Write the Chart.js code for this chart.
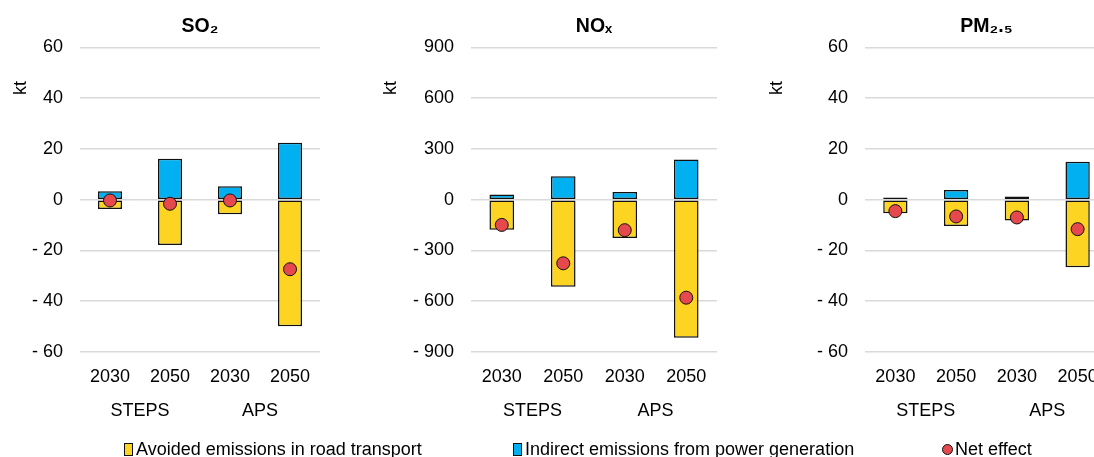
<!DOCTYPE html>
<html>
<head>
<meta charset="utf-8">
<script src="https://cdn.jsdelivr.net/npm/chart.js@4"></script>
<style>
html,body{margin:0;padding:0;width:1094px;height:457px;overflow:hidden;background:#fff;font-family:"Liberation Sans",Arial,sans-serif;color:#000;}
canvas{position:absolute;top:0;}
.kt{position:absolute;font-size:18px;line-height:18px;transform:translate(-50%,-50%) rotate(-90deg);}
.leg{position:absolute;top:440px;font-size:18px;line-height:18px;white-space:nowrap;}
.sq{display:inline-block;width:7px;height:11px;border:1px solid #111;margin-right:3px;vertical-align:-1px;}
.dot{display:inline-block;width:9px;height:9px;border:1px solid #111;border-radius:50%;margin-right:2px;vertical-align:0px;background:#E5484D;}
</style>
</head>
<body>
<canvas id="c1" width="340" height="440" style="left:0px"></canvas>
<canvas id="c2" width="346" height="440" style="left:391px"></canvas>
<canvas id="c3" width="343" height="440" style="left:785px"></canvas>
<div class="kt" style="left:20px;top:88px">kt</div>
<div class="kt" style="left:390px;top:88px">kt</div>
<div class="kt" style="left:776px;top:88px">kt</div>
<div class="leg" style="left:124px"><span class="sq" style="background:#FDD421"></span>Avoided emissions in road transport</div>
<div class="leg" style="left:513px"><span class="sq" style="background:#00B0F0"></span>Indirect emissions from power generation</div>
<div class="leg" style="left:942px"><span class="dot"></span>Net effect</div>
<script>
// ---- data ----
const years = ['2030', '2050', '2030', '2050'];
const scenarios = ['STEPS', 'APS'];
const seriesNames = ['Avoided emissions in road transport', 'Indirect emissions from power generation', 'Net effect'];

const so2Avoided  = [-3.7, -17.8, -5.7, -49.9];
const so2Indirect = [3.3, 16.1, 5.3, 22.4];
const so2Net      = [-0.3, -1.6, -0.3, -27.4];

const noxAvoided  = [-178, -515, -226, -816];
const noxIndirect = [30, 138, 45, 238];
const noxNet      = [-149, -376, -180, -579];

const pmAvoided   = [-5.3, -10.4, -8.2, -26.6];
const pmIndirect  = [0.9, 3.8, 1.3, 15.0];
const pmNet       = [-4.5, -6.6, -7.0, -11.6];

const titles = ['SO\u2082', 'NO\u2093', 'PM\u2082.\u2085'];
const axisRanges = [[-60, 60, 20], [-900, 900, 300], [-60, 60, 20]];

// ---- styles ----
const FONT = '"Liberation Sans", Arial, sans-serif';
const YELLOW = '#FDD421', BLUE = '#00B0F0', RED = '#E5484D', EDGE = '#111111';

Chart.defaults.font.family = FONT;
Chart.defaults.font.size = 18;
Chart.defaults.color = '#000';

function makeChart(id, title, avoided, indirect, net, range) {
  return new Chart(document.getElementById(id), {
    type: 'bar',
    data: {
      labels: years,
      datasets: [
        { type: 'line', label: seriesNames[2], data: net, showLine: false, stack: 'net', order: 0,
          pointRadius: 6.5, pointHoverRadius: 6.5, pointBackgroundColor: RED, pointBorderColor: EDGE, pointBorderWidth: 1 },
        { label: seriesNames[0], data: avoided, backgroundColor: YELLOW, borderColor: EDGE, borderWidth: 1.5,
          borderSkipped: false, stack: 'a', order: 1 },
        { label: seriesNames[1], data: indirect, backgroundColor: BLUE, borderColor: EDGE, borderWidth: 1.5,
          borderSkipped: false, stack: 'a', order: 1 }
      ]
    },
    options: {
      responsive: false,
      animation: false,
      events: [],
      layout: { padding: { left: 0, right: 20, top: 0, bottom: 10 } },
      categoryPercentage: 1,
      barPercentage: 0.4,
      plugins: {
        legend: { display: false },
        tooltip: { enabled: false },
        title: { display: true, text: title, fullSize: false, font: { size: 19.5, weight: 'bold', lineHeight: 1.2 },
                 color: '#000', padding: { top: 15, bottom: 9 } }
      },
      scales: {
        x: {
          stacked: true,
          grid: { display: false, drawTicks: false },
          border: { display: false },
          ticks: { padding: 14, font: { size: 18 }, color: '#000' },
          afterFit: (a) => { a.height = 40; }
        },
        grp: {
          type: 'category',
          labels: scenarios,
          position: 'bottom',
          offset: true,
          grid: { display: false, drawTicks: false },
          border: { display: false },
          ticks: { padding: 8, font: { size: 18 }, color: '#000' },
          afterFit: (a) => { a.height = 38; }
        },
        y: {
          stacked: true,
          min: range[0], max: range[1],
          ticks: { stepSize: range[2], padding: 17, font: { size: 18 }, color: '#000',
                   callback: (v) => v < 0 ? '- ' + Math.abs(v) : String(v) },
          grid: { color: '#D9D9D9', lineWidth: 1.5, drawTicks: false },
          border: { display: false },
          afterFit: (a) => { a.width = 80; }
        }
      }
    }
  });
}

makeChart('c1', titles[0], so2Avoided, so2Indirect, so2Net, axisRanges[0]);
makeChart('c2', titles[1], noxAvoided, noxIndirect, noxNet, axisRanges[1]);
makeChart('c3', titles[2], pmAvoided, pmIndirect, pmNet, axisRanges[2]);
</script>
</body>
</html>
